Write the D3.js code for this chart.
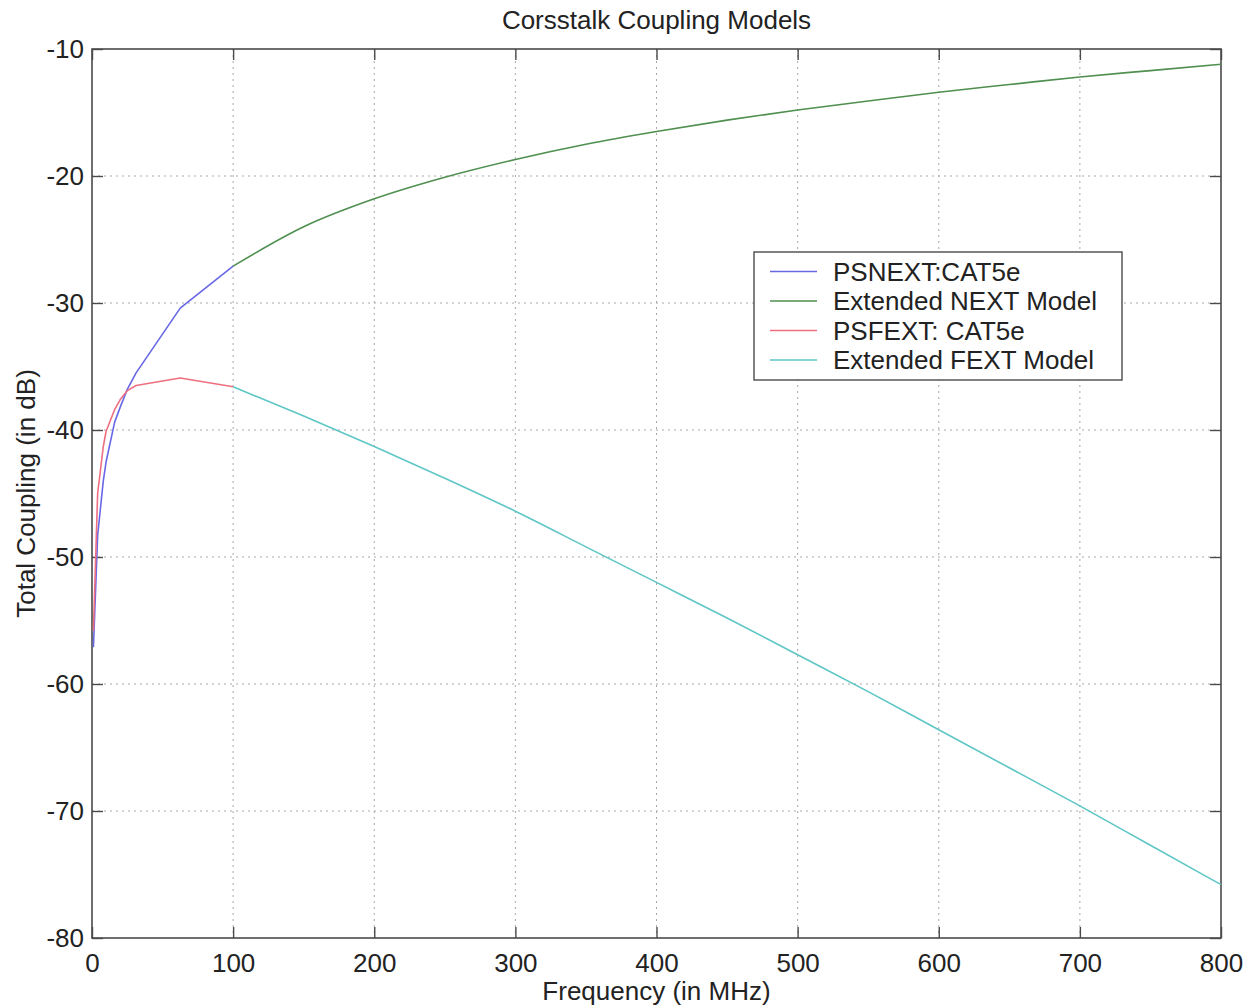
<!DOCTYPE html>
<html>
<head>
<meta charset="utf-8">
<script src="https://cdn.jsdelivr.net/npm/d3@7"></script>
<style>
  html, body { margin: 0; padding: 0; background: #fff; }
  svg { display: block; font-family: "Liberation Sans", Arial, sans-serif; }
</style>
</head>
<body>
<svg id="chart" width="1245" height="1007"></svg>
<script>
// Measured CAT5e power-sum curves (frequency in MHz, coupling in dB)
const catFreq   = [1, 4, 8, 10, 16, 20, 25, 31.25, 62.5, 100];
const psNext    = [-57.1, -48.3, -44.0, -42.5, -39.4, -38.2, -36.8, -35.5, -30.4, -27.1];
const psFext    = [-55.8, -45.0, -41.3, -40.1, -38.4, -37.6, -36.9, -36.5, -35.9, -36.6];

// Extended models above 100 MHz
const extFreq   = [100, 150, 200, 250, 300, 350, 400, 450, 500, 550, 600, 650, 700, 750, 800];
const extNext   = [-27.1, -24.0, -21.8, -20.1, -18.7, -17.5, -16.5, -15.6, -14.8, -14.1, -13.4, -12.8, -12.2, -11.7, -11.2];
const extFext   = [-36.6, -38.9, -41.3, -43.8, -46.4, -49.2, -52.0, -54.8, -57.7, -60.6, -63.6, -66.6, -69.6, -72.7, -75.8];

const xTicks = [0, 100, 200, 300, 400, 500, 600, 700, 800];
const yTicks = [-80, -70, -60, -50, -40, -30, -20, -10];

const seriesNames  = ["PSNEXT:CAT5e", "Extended NEXT Model", "PSFEXT: CAT5e", "Extended FEXT Model"];
const seriesColors = ["#6868e6", "#4f8f4f", "#ee6f80", "#5ec6c6"];

const svg = d3.select("#chart");
const plotL = 92, plotR = 1221, plotT = 49, plotB = 938;

const x = d3.scaleLinear().domain([0, 800]).range([plotL, plotR]);
const y = d3.scaleLinear().domain([-80, -10]).range([plotB, plotT]);

// dotted grid
const grid = svg.append("g").attr("stroke", "#a8a8a8").attr("stroke-width", 1)
  .attr("stroke-dasharray", "2,4");
xTicks.slice(1, -1).forEach(t => grid.append("line")
  .attr("x1", x(t)).attr("x2", x(t)).attr("y1", plotT).attr("y2", plotB));
yTicks.slice(1, -1).forEach(t => grid.append("line")
  .attr("x1", plotL).attr("x2", plotR).attr("y1", y(t)).attr("y2", y(t)));

// axes with inward ticks on all four sides
const tickLen = 11;
const axisColor = "#4a4a4a";
const fontSize = 26;

const xAxisB = d3.axisBottom(x).tickValues(xTicks).tickSizeInner(-tickLen).tickSizeOuter(0).tickPadding(16);
const xAxisT = d3.axisTop(x).tickValues(xTicks).tickSizeInner(-tickLen).tickSizeOuter(0).tickFormat("");
const yAxisL = d3.axisLeft(y).tickValues(yTicks).tickSizeInner(-tickLen).tickSizeOuter(0).tickPadding(8)
  .tickFormat(d => String(d));
const yAxisR = d3.axisRight(y).tickValues(yTicks).tickSizeInner(-tickLen).tickSizeOuter(0).tickFormat("");

function styleAxis(g) {
  g.select(".domain").remove();
  g.selectAll(".tick line").attr("stroke", axisColor).attr("stroke-width", 1.4);
  g.selectAll(".tick text").attr("fill", "#222").attr("font-size", fontSize)
    .attr("font-family", "Liberation Sans, Arial, sans-serif");
}
svg.append("g").attr("transform", `translate(0,${plotB})`).call(xAxisB).call(styleAxis);
svg.append("g").attr("transform", `translate(0,${plotT})`).call(xAxisT).call(styleAxis);
svg.append("g").attr("transform", `translate(${plotL},0)`).call(yAxisL).call(styleAxis);
svg.append("g").attr("transform", `translate(${plotR},0)`).call(yAxisR).call(styleAxis);

// plot frame
svg.append("rect").attr("x", plotL).attr("y", plotT)
  .attr("width", plotR - plotL).attr("height", plotB - plotT)
  .attr("fill", "none").attr("stroke", axisColor).attr("stroke-width", 1.6);

// curves
const lineLin = d3.line().x(d => x(d[0])).y(d => y(d[1]));
const lineSmooth = d3.line().x(d => x(d[0])).y(d => y(d[1])).curve(d3.curveMonotoneX);

const curves = [
  { pts: d3.zip(catFreq, psNext), gen: lineLin },
  { pts: d3.zip(extFreq, extNext), gen: lineSmooth },
  { pts: d3.zip(catFreq, psFext), gen: lineLin },
  { pts: d3.zip(extFreq, extFext), gen: lineSmooth }
];
curves.forEach((c, i) => svg.append("path")
  .attr("d", c.gen(c.pts))
  .attr("fill", "none")
  .attr("stroke", seriesColors[i])
  .attr("stroke-width", 1.6)
  .attr("stroke-linejoin", "round"));

// title and axis labels
svg.append("text").attr("x", (plotL + plotR) / 2).attr("y", 29)
  .attr("text-anchor", "middle").attr("font-size", fontSize).attr("fill", "#222")
  .text("Corsstalk Coupling Models");
svg.append("text").attr("x", (plotL + plotR) / 2).attr("y", 1000)
  .attr("text-anchor", "middle").attr("font-size", fontSize).attr("fill", "#222")
  .text("Frequency (in MHz)");
svg.append("text").attr("transform", `translate(35,${(plotT + plotB) / 2}) rotate(-90)`)
  .attr("text-anchor", "middle").attr("font-size", fontSize).attr("fill", "#222")
  .text("Total Coupling (in dB)");

// legend
const legend = svg.append("g");
legend.append("rect").attr("x", 754).attr("y", 252).attr("width", 368).attr("height", 128)
  .attr("fill", "#fff").attr("stroke", axisColor).attr("stroke-width", 1.4);
seriesNames.forEach((name, i) => {
  const cy = 271.5 + i * 29.5;
  legend.append("line").attr("x1", 770).attr("x2", 817).attr("y1", cy).attr("y2", cy)
    .attr("stroke", seriesColors[i]).attr("stroke-width", 1.6);
  legend.append("text").attr("x", 833).attr("y", cy + 9)
    .attr("font-size", fontSize).attr("fill", "#222").text(name);
});
</script>
</body>
</html>
